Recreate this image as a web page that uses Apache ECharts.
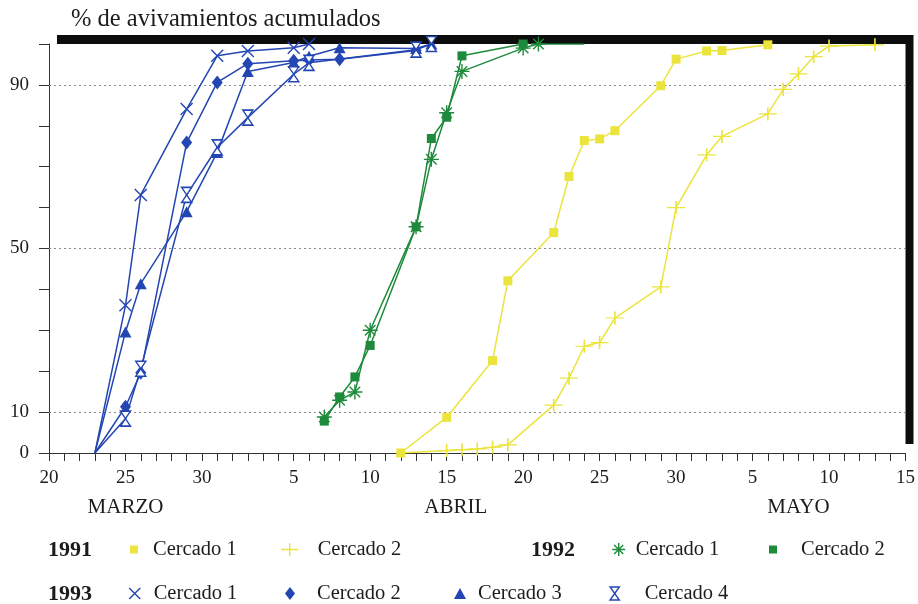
<!DOCTYPE html>
<html><head><meta charset="utf-8">
<script src="https://cdn.jsdelivr.net/npm/echarts@6/dist/echarts.min.js"></script>
<style>html,body{margin:0;padding:0;background:#fff}#c{width:918px;height:604px}</style>
</head><body><div id="c"></div>
<script>
// ---------- data ----------
const axisTitle = '% de avivamientos acumulados';
const monthNames = ['MARZO', 'ABRIL', 'MAYO'];
const yTickLabels = [0, 10, 50, 90];
const yGridLines = [10, 50, 90];
const seasonStart = '03-20';
const seasonEnd = '05-15';

// 1991
const d91c1 = ['04-12','04-15','04-18','04-19','04-22','04-23','04-24','04-25','04-26','04-29','04-30','05-02','05-03','05-06'];
const v91c1 = [0, 8.7, 22.6, 42.1, 53.9, 67.6, 76.4, 76.8, 78.8, 89.8, 96.3, 98.3, 98.4, 99.8];
const d91c2 = ['04-12','04-15','04-16','04-17','04-18','04-19','04-22','04-23','04-24','04-25','04-26','04-29','04-30','05-02','05-03','05-06','05-07','05-08','05-09','05-10','05-13'];
const v91c2 = [0, 0.6, 0.8, 1.0, 1.4, 2.0, 11.7, 18.3, 26.1, 27.0, 33.0, 40.6, 60.0, 72.9, 77.4, 82.9, 88.9, 92.7, 96.9, 99.5, 99.8];
// 1992
const d92c1 = ['04-07','04-08','04-09','04-10','04-13','04-14','04-15','04-16','04-20','04-21','04-24'];
const v92c1 = [8.8, 12.9, 14.9, 30.0, 55.3, 71.8, 83.2, 93.3, 99.0, 100, 100];
const d92c2 = ['04-07','04-08','04-09','04-10','04-13','04-14','04-15','04-16','04-20'];
const v92c2 = [7.8, 13.7, 18.6, 26.3, 55.3, 76.9, 82.1, 97.1, 100];
// 1993
const d93c1 = ['03-23','03-25','03-26','03-29','03-31','04-02','04-05','04-06'];
const v93c1 = [0, 36.1, 63.1, 84.1, 97.1, 98.3, 99.1, 100];
const d93c2 = ['03-23','03-25','03-26','03-29','03-31','04-02','04-05','04-06','04-08','04-13'];
const v93c2 = [0, 11.3, 19.6, 75.9, 90.6, 95.2, 95.9, 96.1, 96.3, 98.4];
const d93c3 = ['03-23','03-25','03-26','03-29','03-31','04-02','04-05','04-06','04-08','04-13','04-14'];
const v93c3 = [0, 29.6, 41.4, 59.0, 73.5, 93.3, 95.5, 97.0, 99.1, 98.9, 100];
const d93c4 = ['03-23','03-25','03-26','03-29','03-31','04-02','04-05','04-06','04-13','04-14'];
const v93c4 = [0, 8.4, 20.6, 63.1, 74.7, 82.0, 92.6, 95.4, 98.6, 100];

// ---------- helpers ----------
const Y0 = 2001;
function toDate(md) { const p = md.split('-').map(Number); return Date.UTC(Y0, p[0] - 1, p[1]); }
const startMs = toDate(seasonStart);
function dayIndex(md) { return (toDate(md) - startMs) / 864e5; }

const BLUE = '#2346b3', GREEN = '#1d8b3b', YELLOW = '#ebe43c';
const SERIF = 'Liberation Serif';
const TXT = '#1c1c1c';
const P = {
  square: 'path://M0,0H10V10H0Z',
  plus: 'path://M0,6H16M8,0V12',
  star: 'path://M0,6H12M6,0V12M1.8,1.8L10.2,10.2M1.8,10.2L10.2,1.8',
  cross: 'path://M0,0L10,10M0,10L10,0',
  diamond: 'path://M5,0L10,6.5L5,13L0,6.5Z',
  triangle: 'path://M6,0L12,11H0Z',
  hourglass: 'path://M0,0H10L0,14H10Z'
};

// hideFirst / hideLast: points drawn without a marker (hidden under others / the frame)
const defs = [
  { name: '1993 Cercado 1', d: d93c1, v: v93c1, color: BLUE, sym: P.cross, size: 12, stroke: true, hideFirst: true },
  { name: '1993 Cercado 2', d: d93c2, v: v93c2, color: BLUE, sym: P.diamond, size: [11, 14], stroke: false, hideFirst: true },
  { name: '1993 Cercado 3', d: d93c3, v: v93c3, color: BLUE, sym: P.triangle, size: [12, 11], stroke: false, hideFirst: true },
  { name: '1993 Cercado 4', d: d93c4, v: v93c4, color: BLUE, sym: P.hourglass, size: [10, 15], stroke: true, hollow: true, hideFirst: true },
  { name: '1992 Cercado 1', d: d92c1, v: v92c1, color: GREEN, sym: P.star, size: 15, stroke: true, hideLast: true },
  { name: '1992 Cercado 2', d: d92c2, v: v92c2, color: GREEN, sym: P.square, size: 9, stroke: false },
  { name: '1991 Cercado 1', d: d91c1, v: v91c1, color: YELLOW, sym: P.square, size: 9, stroke: false },
  { name: '1991 Cercado 2', d: d91c2, v: v91c2, color: YELLOW, sym: P.plus, size: [18, 13], stroke: true, hideFirst: true }
];
function itemStyleOf(s) {
  if (s.hollow) return { color: '#fff', borderColor: s.color, borderWidth: 1.4 };
  if (s.stroke) return { color: s.color, borderColor: s.color, borderWidth: 1.4 };
  return { color: s.color, borderColor: s.color, borderWidth: 0 };
}

const series = defs.map((s, i) => {
  const n = s.d.length;
  const data = s.d.map((d, k) => {
    const pt = [dayIndex(d), s.v[k]];
    if ((k === 0 && s.hideFirst) || (k === n - 1 && s.hideLast)) return { value: pt, symbol: 'none' };
    return pt;
  });
  const o = {
    name: s.name, type: 'line', data: data,
    symbol: s.sym, symbolSize: s.size, showSymbol: true,
    lineStyle: { color: s.color, width: 1.5 },
    itemStyle: itemStyleOf(s),
    z: 3
  };
  if (i === 0) {
    o.markLine = {
      silent: true, symbol: 'none', label: { show: false },
      lineStyle: { type: [2, 3], color: '#8a8a8a', width: 1 },
      data: yGridLines.map(v => ({ yAxis: v })),
      z: 1
    };
  }
  return o;
});

// legend placement: [series, icon centre x, text start x, icon height, icon aspect w/h, row]
const legendPlace = [
  ['1991 Cercado 1', 134, 153, 8, 1, 0],
  ['1991 Cercado 2', 289, 317, 13, 16 / 12, 0],
  ['1992 Cercado 1', 618, 635, 13, 1, 0],
  ['1992 Cercado 2', 773, 801, 8, 1, 0],
  ['1993 Cercado 1', 134, 153, 11, 1, 1],
  ['1993 Cercado 2', 290, 317, 13, 10 / 13, 1],
  ['1993 Cercado 3', 460, 478, 11, 12 / 11, 1],
  ['1993 Cercado 4', 614, 644, 13, 10 / 14, 1]
];
const rowCenter = [550, 594];
const legends = legendPlace.map(([nm, cx, tx, h, asp, row]) => {
  const s = defs.find(d => d.name === nm);
  const iw = h * asp;
  const w = 2 * (tx - cx - 5);
  return {
    data: [{ name: nm, icon: s.sym, itemStyle: itemStyleOf(s) }],
    left: cx - iw / 2, top: rowCenter[row] - 11,
    itemWidth: w, itemHeight: h, padding: 0, selectedMode: false,
    symbolKeepAspect: true,
    formatter: n => n.split(' ').slice(1).join(' '),
    textStyle: { fontFamily: SERIF, fontSize: 20.5, color: TXT }
  };
});

const chart = echarts.init(document.getElementById('c'));
const option = {
  animation: false,
  backgroundColor: '#fff',
  title: {
    text: axisTitle, left: 71, top: 7, padding: 0,
    textStyle: { fontFamily: SERIF, fontSize: 24.5, fontWeight: 'normal', color: TXT }
  },
  grid: {
    left: 49, right: 11, top: 44, bottom: 151, show: true,
    backgroundColor: '#fff', borderWidth: 0,
    shadowColor: '#0d0d0d', shadowBlur: 0, shadowOffsetX: 8, shadowOffsetY: -9
  },
  xAxis: {
    type: 'value', min: 0, max: dayIndex(seasonEnd), interval: 1,
    axisLine: { show: true, onZero: false, lineStyle: { color: '#333', width: 1 } },
    axisTick: { show: true, length: 8, lineStyle: { color: '#333', width: 1 } },
    splitLine: { show: false },
    axisLabel: {
      margin: 16, fontFamily: SERIF, fontSize: 19, color: TXT,
      showMinLabel: true, showMaxLabel: true,
      formatter: v => { const dd = new Date(startMs + v * 864e5).getUTCDate(); return dd % 5 === 0 ? String(dd) : ''; }
    }
  },
  yAxis: {
    type: 'value', min: 0, max: 100, interval: 10,
    axisLine: { show: true, lineStyle: { color: '#333', width: 1 } },
    axisTick: { show: true, length: 10, lineStyle: { color: '#333', width: 1 } },
    splitLine: { show: false },
    axisLabel: {
      margin: 20, fontFamily: SERIF, fontSize: 19, color: TXT,
      formatter: v => yTickLabels.includes(v) ? String(v) : ''
    }
  },
  legend: legends,
  series: series
};
chart.setOption(option);

// month names and year labels
const monthAt = [5, 26.6, 49];
const graphics = monthNames.map((m, i) => ({
  type: 'text', x: chart.convertToPixel({ xAxisIndex: 0 }, monthAt[i]), y: 507,
  style: { text: m, fontFamily: SERIF, fontSize: 21, fill: TXT, align: 'center', verticalAlign: 'middle' }
}));
[['1991', 48, 0], ['1992', 531, 0], ['1993', 48, 1]].forEach(([t, x, r]) => {
  graphics.push({
    type: 'text', x: x, y: rowCenter[r],
    style: { text: t, fontFamily: SERIF, fontSize: 22, fontWeight: 'bold', fill: TXT, align: 'left', verticalAlign: 'middle' }
  });
});
chart.setOption({ graphic: graphics });
</script>
</body></html>
